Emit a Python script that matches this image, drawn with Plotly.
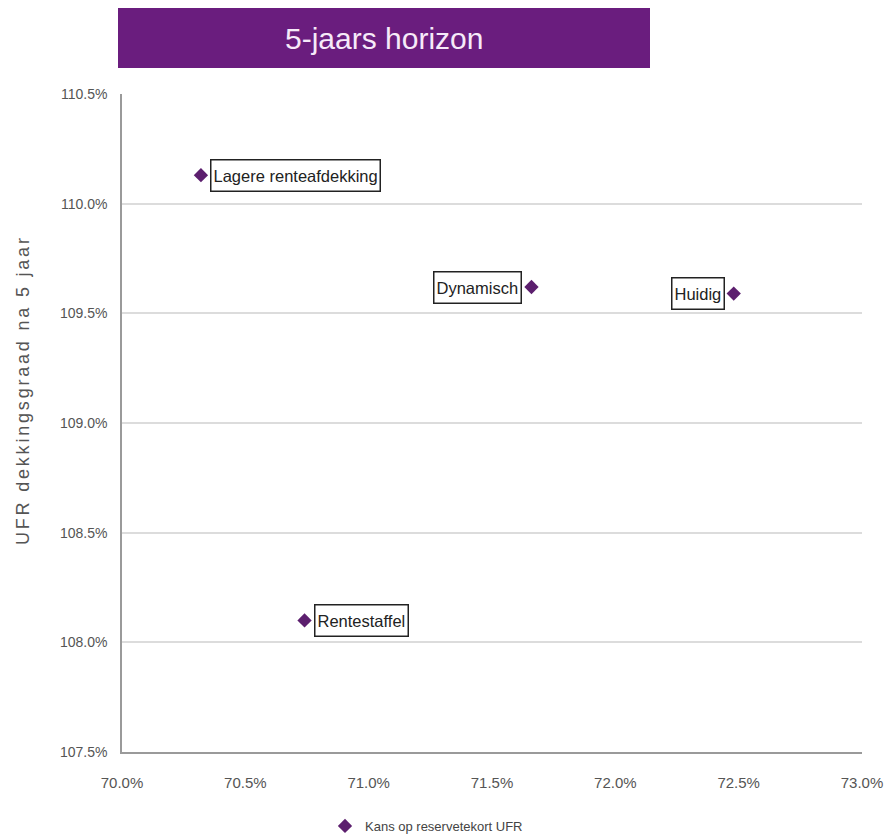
import plotly.graph_objects as go

# Scenario results: chance of reserve shortfall (x) vs UFR funding ratio after 5 years (y)
scenarios = ["Lagere renteafdekking", "Dynamisch", "Huidig", "Rentestaffel"]
kans_tekort = [70.32, 71.66, 72.48, 70.74]
dekkingsgraad = [110.13, 109.62, 109.59, 108.10]
label_side = ["right", "left", "left", "right"]

x_ticks = [70.0, 70.5, 71.0, 71.5, 72.0, 72.5, 73.0]
y_ticks = [107.5, 108.0, 108.5, 109.0, 109.5, 110.0, 110.5]

FONT = "Liberation Sans Narrow, Arial Narrow, Liberation Sans, Arial, sans-serif"
PURPLE = "#6a1d7e"
MARKER = "#5c1f6e"

# plot area in pixels (used to place free text in paper coordinates)
plot_l, plot_r, plot_t, plot_b = 122, 862, 94, 752


def px_x(px):
    return (px - plot_l) / (plot_r - plot_l)


def px_y(py):
    return (plot_b - py) / (plot_b - plot_t)


fig = go.Figure()
fig.add_trace(go.Scatter(
    x=kans_tekort, y=dekkingsgraad, mode="markers",
    name="Kans op reservetekort UFR",
    marker=dict(symbol="diamond", size=11, color=MARKER),
))

annotations = []
for name, xv, yv, side in zip(scenarios, kans_tekort, dekkingsgraad, label_side):
    annotations.append(dict(
        x=xv, y=yv, xref="x", yref="y", text=name, showarrow=False,
        xanchor="left" if side == "right" else "right", yanchor="middle",
        xshift=9 if side == "right" else -9,
        font=dict(family=FONT, size=16.5, color="#222222"),
        height=26, valign="middle",
        bgcolor="white", bordercolor="#222222", borderwidth=1.5, borderpad=2,
    ))

# Title banner text
annotations.append(dict(
    x=px_x(384), y=px_y(38), xref="paper", yref="paper", text="5-jaars horizon",
    xanchor="center", yanchor="middle",
    showarrow=False, font=dict(family=FONT, size=30, color="#f6eaf9"),
))
# Y axis title
annotations.append(dict(
    x=px_x(23), y=px_y(390), xref="paper", yref="paper",
    text='<span style="letter-spacing:2.8px">UFR dekkingsgraad na 5 jaar</span>',
    showarrow=False, textangle=-90, xanchor="center", yanchor="middle",
    font=dict(family=FONT, size=18, color="#555555"),
))

fig.update_layout(
    width=888, height=834,
    margin=dict(l=plot_l, r=888 - plot_r, t=plot_t, b=834 - plot_b, autoexpand=False),
    paper_bgcolor="white", plot_bgcolor="white",
    font=dict(family=FONT, size=13, color="#555555"),
    shapes=[dict(
        type="rect", xref="paper", yref="paper",
        x0=px_x(118), x1=px_x(650), y0=px_y(68), y1=px_y(8),
        fillcolor=PURPLE, line=dict(width=0), layer="below",
    )],
    annotations=annotations,
    showlegend=True,
    legend=dict(
        orientation="h", x=px_x(325), xanchor="left",
        yref="container", y=0.0096, yanchor="middle",
        font=dict(family=FONT, size=13, color="#444444"),
        itemwidth=30, bgcolor="rgba(0,0,0,0)",
    ),
    xaxis=dict(
        range=[70.0, 73.0], tickvals=x_ticks, ticktext=[f"{v:.1f}%" for v in x_ticks],
        showgrid=False, zeroline=False,
        showline=True, linecolor="#9a9a9a", linewidth=2,
        ticks="outside", ticklen=16, tickcolor="rgba(0,0,0,0)",
        tickfont=dict(family=FONT, size=15, color="#555555"),
    ),
    yaxis=dict(
        range=[107.5, 110.5], tickvals=y_ticks, ticktext=[f"{v:.1f}%" for v in y_ticks],
        showgrid=True, gridcolor="#dcdcdc", gridwidth=1.5, zeroline=False,
        showline=True, linecolor="#9a9a9a", linewidth=1.5,
        ticks="outside", ticklen=10, tickcolor="rgba(0,0,0,0)",
        tickfont=dict(family=FONT, size=14, color="#555555"),
    ),
)

fig.write_html("out.html")
